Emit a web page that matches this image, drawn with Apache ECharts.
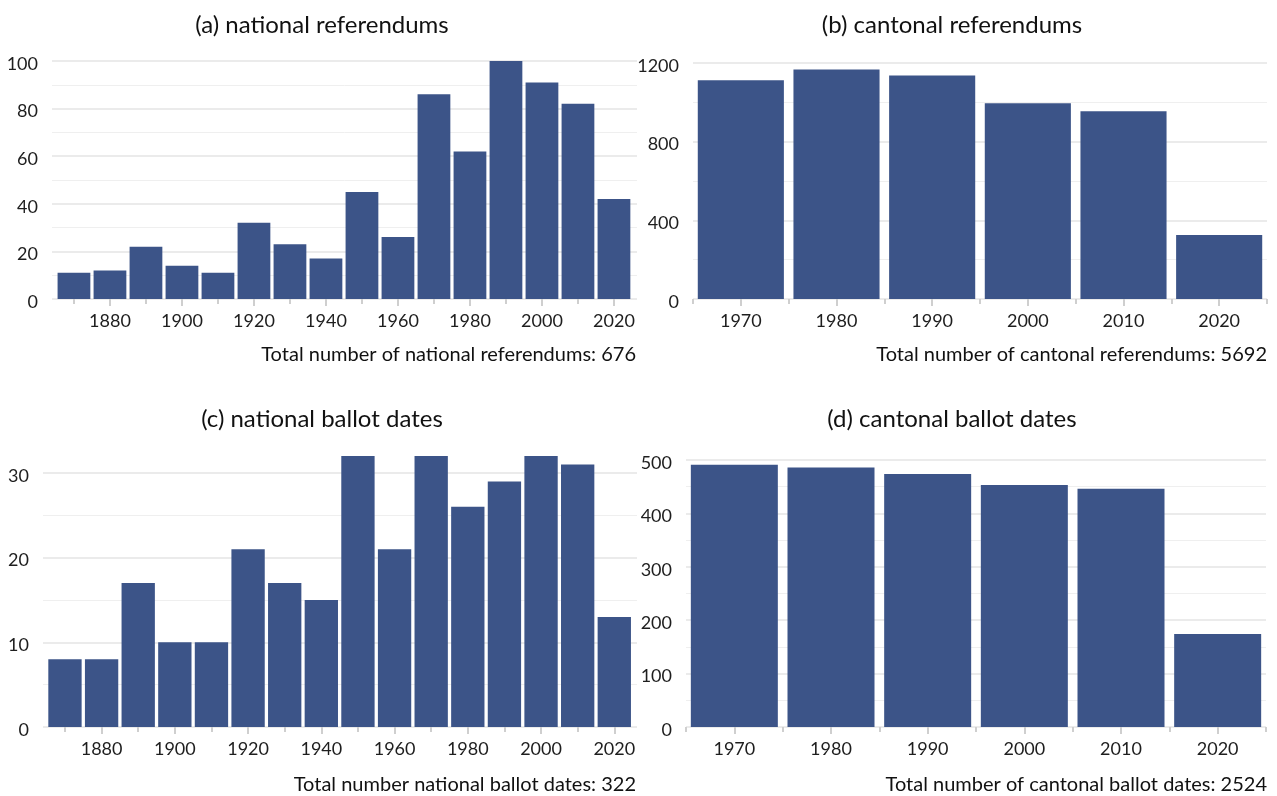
<!DOCTYPE html>
<html>
<head>
<meta charset="utf-8">
<title>Swiss referendums and ballot dates by decade</title>
<script src="https://cdn.jsdelivr.net/npm/echarts@6/dist/echarts.min.js"></script>
<style>
  html, body { margin: 0; padding: 0; background: #ffffff; }
  #chart { width: 1277px; height: 796px; }
</style>
</head>
<body>
<div id="chart"></div>
<script>
// Decades (bin centres) for the national series, 1870s to 2020s
const decadesNational = [1870, 1880, 1890, 1900, 1910, 1920, 1930, 1940, 1950, 1960, 1970, 1980, 1990, 2000, 2010, 2020];
// Decades for the cantonal series, 1970s to 2020s
const decadesCantonal = [1970, 1980, 1990, 2000, 2010, 2020];

// Counts per decade
const nationalReferendums = [11, 12, 22, 14, 11, 32, 23, 17, 45, 26, 86, 62, 100, 91, 82, 42];
const cantonalReferendums = [1112, 1167, 1137, 995, 955, 326];
const nationalBallotDates = [8, 8, 17, 10, 10, 21, 17, 15, 32, 21, 32, 26, 29, 32, 31, 13];
const cantonalBallotDates = [491, 486, 474, 453, 446, 174];

// X-axis breaks: labelled (major) and unlabelled (minor)
const nationalMajorYears = [1880, 1900, 1920, 1940, 1960, 1980, 2000, 2020];
const nationalMinorYears = [1870, 1890, 1910, 1930, 1950, 1970, 1990, 2010];
const cantonalMajorYears = [1970, 1980, 1990, 2000, 2010, 2020];
const cantonalMinorYears = [1965, 1975, 1985, 1995, 2005, 2015, 2025];

// Y-axis breaks per panel
const yMajorA = [0, 20, 40, 60, 80, 100];
const yMinorA = [10, 30, 50, 70, 90];
const yMajorB = [0, 400, 800, 1200];
const yMinorB = [200, 600, 1000];
const yMajorC = [0, 10, 20, 30];
const yMinorC = [5, 15, 25];
const yMajorD = [0, 100, 200, 300, 400, 500];
const yMinorD = [50, 150, 250, 350, 450];

// Panel titles and captions
const panelTitles = ['(a) national referendums', '(b) cantonal referendums', '(c) national ballot dates', '(d) cantonal ballot dates'];
const panelCaptions = [
  'Total number of national referendums: 676',
  'Total number of cantonal referendums: 5692',
  'Total number national ballot dates: 322',
  'Total number of cantonal ballot dates: 2524'
];

const FONT = 'Lato, "Open Sans", sans-serif';
const BAR_COLOR = '#3c5488';
const TEXT_COLOR = '#1e1e1e';
const plain = v => String(v);

// Panel geometry and scales
const panels = [
  { grid: { left: 52, top: 61, width: 585, height: 238 }, xMin: 1863.9, xMax: 2026.4, yMax: 100,
    years: decadesNational, values: nationalReferendums, xMajor: nationalMajorYears, xMinor: nationalMinorYears,
    yMajor: yMajorA, yMinor: yMinorA, barWidth: '91%' },
  { grid: { left: 693, top: 63, width: 574, height: 236 }, xMin: 1965, xMax: 2025, yMax: 1200,
    years: decadesCantonal, values: cantonalReferendums, xMajor: cantonalMajorYears, xMinor: cantonalMinorYears,
    yMajor: yMajorB, yMinor: yMinorB, barWidth: '90%' },
  { grid: { left: 43, top: 456, width: 594, height: 271 }, xMin: 1864, xMax: 2026.2, yMax: 32,
    years: decadesNational, values: nationalBallotDates, xMajor: nationalMajorYears, xMinor: nationalMinorYears,
    yMajor: yMajorC, yMinor: yMinorC, barWidth: '91%' },
  { grid: { left: 686, top: 460, width: 580, height: 267 }, xMin: 1965, xMax: 2025, yMax: 500,
    years: decadesCantonal, values: cantonalBallotDates, xMajor: cantonalMajorYears, xMinor: cantonalMinorYears,
    yMajor: yMajorD, yMinor: yMinorD, barWidth: '90%' }
];

const grids = [], xAxes = [], yAxes = [], series = [];

panels.forEach((p, i) => {
  grids.push(Object.assign({ containLabel: false, outerBoundsMode: 'none' }, p.grid));

  // labelled x-axis with longer ticks
  xAxes.push({
    gridIndex: i, type: 'value', min: p.xMin, max: p.xMax, offset: 2,
    axisLine: { show: false }, splitLine: { show: false },
    axisTick: { show: true, length: 7, customValues: p.xMajor, lineStyle: { color: '#cfcfcf', width: 2 } },
    axisLabel: { customValues: p.xMajor, formatter: plain, fontSize: 18, color: TEXT_COLOR, margin: 11, fontFamily: FONT }
  });
  // unlabelled x-axis carrying the short ticks
  xAxes.push({
    gridIndex: i, type: 'value', min: p.xMin, max: p.xMax, offset: 2, position: 'bottom',
    axisLine: { show: false }, splitLine: { show: false },
    axisTick: { show: true, length: 5, customValues: p.xMinor, lineStyle: { color: '#cfcfcf', width: 2 } },
    axisLabel: { show: false }
  });

  // major y grid with labels (labels sit a little below their grid line)
  yAxes.push({
    gridIndex: i, type: 'value', min: 0, max: p.yMax, position: 'left',
    axisLine: { show: false },
    axisTick: { show: false, customValues: p.yMajor },
    axisLabel: { customValues: p.yMajor, formatter: plain, fontSize: 18, color: TEXT_COLOR, margin: 14,
                 fontFamily: FONT, verticalAlign: 'top', lineHeight: 6 },
    splitLine: { show: true, lineStyle: { color: '#ebebeb', width: 2 } }
  });
  // minor y grid
  yAxes.push({
    gridIndex: i, type: 'value', min: 0, max: p.yMax, position: 'left',
    axisLine: { show: false },
    axisTick: { show: false, customValues: p.yMinor },
    axisLabel: { show: false },
    splitLine: { show: true, lineStyle: { color: '#efefef', width: 1 } }
  });

  series.push({
    type: 'bar',
    xAxisIndex: 2 * i,
    yAxisIndex: 2 * i,
    barWidth: p.barWidth,
    itemStyle: { color: BAR_COLOR },
    silent: true,
    data: p.years.map((y, k) => [y, p.values[k]])
  });
});

// Titles and captions as plain text
const titleCentres = [[322, 25], [952, 25], [322, 419], [952, 419]];
const captionAnchors = [[636, 355], [1267, 355], [636, 785], [1267, 785]];
const graphics = [];
panelTitles.forEach((t, i) => {
  graphics.push({
    type: 'text', x: titleCentres[i][0], y: titleCentres[i][1],
    style: { text: t, fill: '#111', font: '24px ' + FONT, textAlign: 'center', textVerticalAlign: 'middle' }
  });
});
panelCaptions.forEach((t, i) => {
  graphics.push({
    type: 'text', x: captionAnchors[i][0], y: captionAnchors[i][1],
    style: { text: t, fill: '#111', font: '20px ' + FONT, textAlign: 'right', textVerticalAlign: 'middle' }
  });
});

const chart = echarts.init(document.getElementById('chart'), null, { renderer: 'canvas' });
chart.setOption({
  animation: false,
  backgroundColor: '#ffffff',
  textStyle: { fontFamily: FONT },
  grid: grids,
  xAxis: xAxes,
  yAxis: yAxes,
  series: series,
  graphic: graphics
});
</script>
</body>
</html>
